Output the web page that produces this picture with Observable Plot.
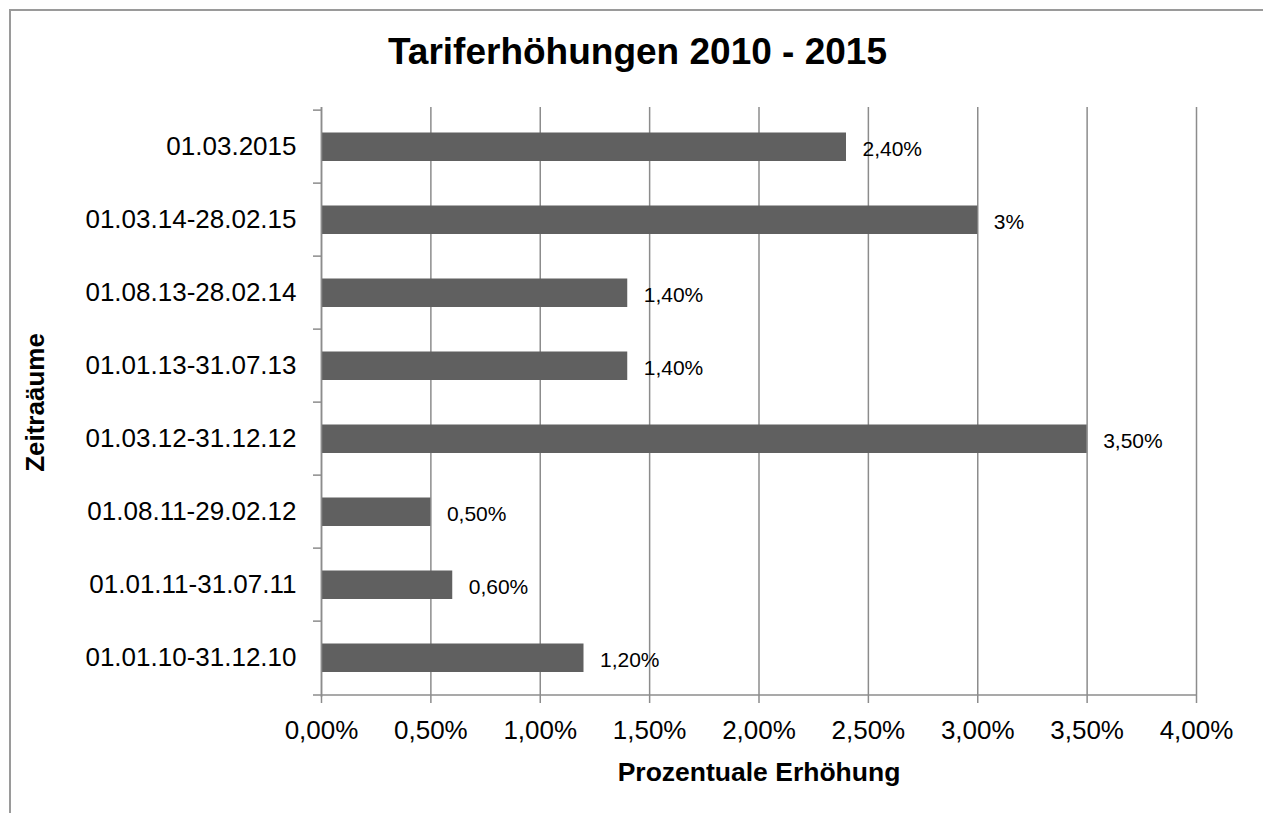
<!DOCTYPE html>
<html>
<head>
<meta charset="utf-8">
<script src="https://cdn.jsdelivr.net/npm/d3@7"></script>
<script src="https://cdn.jsdelivr.net/npm/@observablehq/plot@0.6"></script>
<style>
  html, body { margin: 0; padding: 0; background: #fff; }
  #wrap { position: relative; width: 1263px; height: 813px; overflow: hidden; font-family: "Liberation Sans", Arial, Helvetica, sans-serif; }
  #frame { position: absolute; left: 9px; top: 9px; width: 1300px; height: 900px; border-top: 2px solid #9a9a9a; border-left: 2px solid #9a9a9a; pointer-events: none; }
  #title { position: absolute; left: 6px; top: 33px; width: 1263px; text-align: center; font-weight: bold; font-size: 37px; line-height: 37px; color: #000; }
  #chart { position: absolute; left: 0; top: 90px; }
</style>
</head>
<body>
<div id="wrap">
  <div id="frame"></div>
  <div id="title">Tariferhöhungen 2010 - 2015</div>
  <div id="chart"></div>
</div>
<script>
// ---- data ----
const periods = [
  "01.03.2015",
  "01.03.14-28.02.15",
  "01.08.13-28.02.14",
  "01.01.13-31.07.13",
  "01.03.12-31.12.12",
  "01.08.11-29.02.12",
  "01.01.11-31.07.11",
  "01.01.10-31.12.10"
];
const increases = [0.024, 0.03, 0.014, 0.014, 0.035, 0.005, 0.006, 0.012];
const valueLabels = ["2,40%", "3%", "1,40%", "1,40%", "3,50%", "0,50%", "0,60%", "1,20%"];
const xTicks = [0, 0.005, 0.01, 0.015, 0.02, 0.025, 0.03, 0.035, 0.04];
const xTitle = "Prozentuale Erhöhung";
const yTitle = "Zeitraäume";

const rows = periods.map((p, i) => ({period: p, value: increases[i], label: valueLabels[i]}));

const W = 1263, H = 723, mT = 17, mB = 116, mL = 321, mR = 67;
const bw = (H - mT - mB) / periods.length;
const gray = "#8c8c8c";
const fmt = d => (d * 100).toFixed(2).replace(".", ",") + "%";

const chart = Plot.plot({
  width: W,
  height: H,
  marginTop: mT,
  marginBottom: mB,
  marginLeft: mL,
  marginRight: mR,
  style: {fontFamily: "'Liberation Sans', Arial, Helvetica, sans-serif", color: "#000", background: "transparent"},
  x: {domain: [0, 0.04], label: null},
  y: {domain: periods, padding: 0, label: null},
  marks: [
    Plot.gridX(xTicks, {stroke: gray, strokeOpacity: 1, strokeWidth: 1.5}),
    Plot.barX(rows, {x: "value", y: "period", fill: "#606060", insetTop: 22.5, insetBottom: 22}),
    Plot.ruleX([0], {stroke: gray, strokeWidth: 1.5}),
    Plot.ruleY(periods, {y: d => d, x1: 0, x2: 0, insetLeft: -8, dy: -bw / 2, stroke: gray, strokeWidth: 1.5}),
    Plot.ruleY([periods[periods.length - 1]], {y: d => d, dy: bw / 2, insetLeft: -8, stroke: gray, strokeWidth: 1.5}),
    Plot.axisX(xTicks, {tickSize: 6, tickPadding: 17, stroke: gray, strokeWidth: 1.5, fill: "#000", fontSize: 26, tickFormat: fmt, label: null}),
    Plot.axisY({tickSize: 0, tickPadding: 25, fill: "#000", fontSize: 26, label: null}),
    Plot.text(rows, {x: "value", y: "period", text: "label", textAnchor: "start", dx: 16, dy: 2, fontSize: 21, fill: "#000"}),
    Plot.text([xTitle], {frameAnchor: "bottom", lineAnchor: "middle", textAnchor: "middle", dy: 75, text: d => d, fontSize: 26.5, fontWeight: "bold", fill: "#000"}),
    Plot.text([yTitle], {frameAnchor: "left", textAnchor: "middle", lineAnchor: "middle", dx: -286, text: d => d, rotate: -90, fontSize: 26, fontWeight: "bold", fill: "#000"})
  ]
});
document.getElementById("chart").appendChild(chart);
</script>
</body>
</html>
